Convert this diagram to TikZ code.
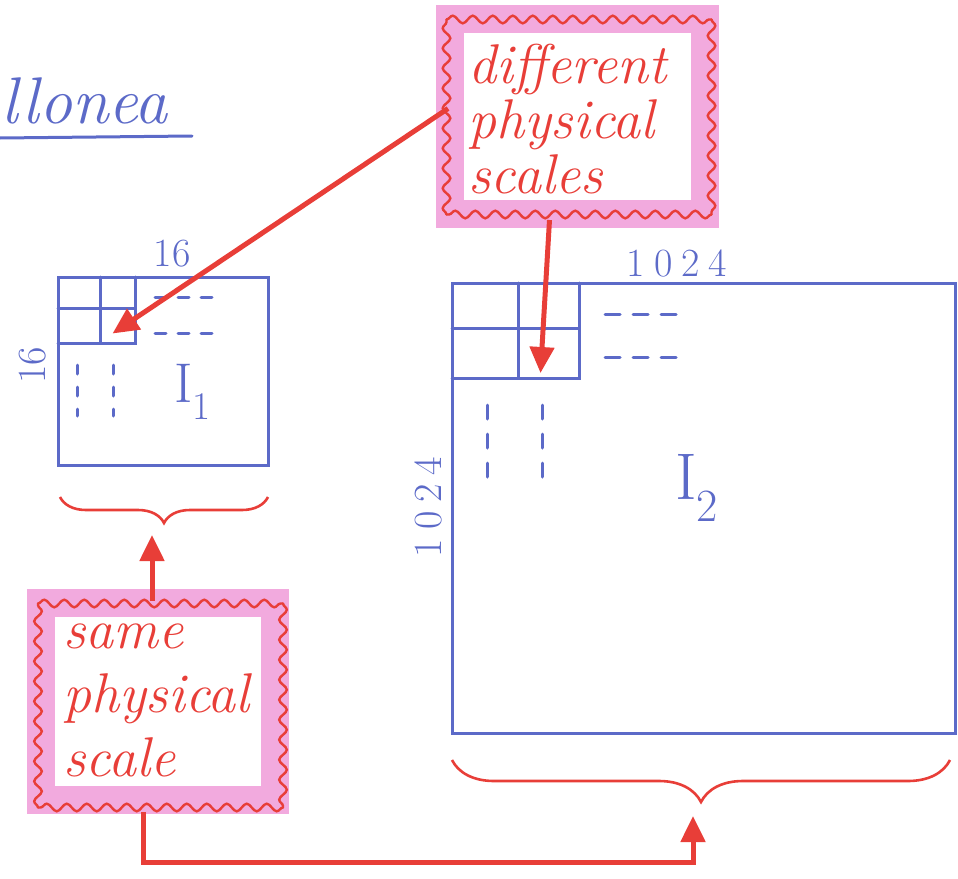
\documentclass[tikz,border=0pt]{standalone}
\usetikzlibrary{arrows.meta,decorations.pathmorphing,decorations.pathreplacing,calc}
\definecolor{inkblue}{RGB}{92,106,200}
\definecolor{inkred}{RGB}{232,62,56}
\definecolor{hipink}{RGB}{242,170,222}
\begin{document}
\begin{tikzpicture}[x=1pt,y=-1pt,
  blueline/.style={draw=inkblue,line width=3pt,line cap=round},
  bluedash/.style={blueline,dash pattern=on #1},
  bluebox/.style={draw=inkblue,line width=3pt,inner sep=0pt,outer sep=0pt},
  bluetext/.style={text=inkblue,inner sep=0pt},
  pinkband/.style={draw=hipink,line width=28pt,inner sep=0pt,outer sep=0pt,line join=miter},
  wavy/.style={draw=inkred,line width=2.4pt,line cap=round,decorate,decoration={snake,segment length=20pt,amplitude=3.8pt}},
  redtext/.style={text=inkred,inner sep=0pt,align=left,font=\itshape\fontsize{56}{#1}\selectfont},
  redarrow/.style={draw=inkred,line width=5pt,-{Triangle[length=26pt,width=24pt]}},
  redbrace/.style={draw=inkred,line width=2.6pt,decorate,decoration={brace,mirror,amplitude=#1}}
]
\useasboundingbox (0,0) rectangle (958,878);

% title
\node[bluetext,anchor=base west,font=\itshape\fontsize{66}{70}\selectfont] (title) at (1,123) {llonea};
\draw[blueline] (title.base west) ++(-1,15) -- ++(192,-2);

% image I1
\node[bluebox,minimum width=210pt,minimum height=188pt] (i1) at (163,371) {};
\node[bluebox,minimum width=35pt,minimum height=35pt] (cellA) at (117.5,325.5) {};
\draw[blueline] (cellA.north west) -- (cellA.north west |- i1.north);
\draw[blueline] (cellA.north east) -- (cellA.north east |- i1.north);
\draw[blueline] (cellA.north west) -- (cellA.north west -| i1.west);
\draw[blueline] (cellA.south west) -- (cellA.south west -| i1.west);
\draw[bluedash={11pt off 12pt}] (155,297) -- (212,297);
\draw[bluedash={11pt off 12pt}] (155,333) -- (212,333);
\draw[bluedash={9pt off 13pt}] (77,365) -- (77,416);
\draw[bluedash={9pt off 13pt}] (113,365) -- (113,416);
\node[bluetext,font=\fontsize{56}{60}\selectfont] (i1lab) at (193,392) {I\textsubscript{1}};
\node[bluetext,font=\fontsize{40}{42}\selectfont] (n16a) at (172,254) {16};
\node[bluetext,font=\fontsize{40}{42}\selectfont,rotate=90] (n16b) at (33,365) {16};

% image I2
\node[bluebox,minimum width=503pt,minimum height=450pt] (i2) at (703.5,508) {};
\node[bluebox,minimum width=61pt,minimum height=50pt] (cellB) at (548.5,353) {};
\draw[blueline] (cellB.north west) -- (cellB.north west |- i2.north);
\draw[blueline] (cellB.north east) -- (cellB.north east |- i2.north);
\draw[blueline] (cellB.north west) -- (cellB.north west -| i2.west);
\draw[blueline] (cellB.south west) -- (cellB.south west -| i2.west);
\draw[bluedash={15pt off 13pt}] (605,314) -- (677,314);
\draw[bluedash={15pt off 13pt}] (605,357) -- (677,357);
\draw[bluedash={14pt off 15pt}] (487,405) -- (487,478);
\draw[bluedash={14pt off 15pt}] (542,405) -- (542,478);
\node[bluetext,font=\fontsize{66}{70}\selectfont] (i2lab) at (697,488) {I\textsubscript{2}};
\node[bluetext,font=\fontsize{40}{42}\selectfont] (n1024a) at (677,263) {1\kern9pt0\kern9pt2\kern9pt4};
\node[bluetext,font=\fontsize{40}{42}\selectfont,rotate=90] (n1024b) at (428,507) {1\kern9pt0\kern9pt2\kern9pt4};

% braces
\coordinate (b1l) at (60,497);
\coordinate (b1r) at (268,497);
\coordinate (b1tip) at (152,535);
\draw[redbrace=26pt] (b1l) -- (b1r);
\coordinate (b2l) at (452,760);
\coordinate (b2r) at (950,760);
\coordinate (b2tip) at (693,816);
\draw[redbrace=42pt] (b2l) -- (b2r);

% different physical scales box
\node[pinkband,minimum width=255pt,minimum height=195pt] (diff) at (577.5,116.5) {};
\coordinate (dnw) at ($(diff.center)+(-131,-97)$);
\coordinate (dse) at ($(diff.center)+(134,98)$);
\draw[wavy] (dnw) -- (dnw -| dse);
\draw[wavy] (dnw -| dse) -- (dse);
\draw[wavy] (dse) -- (dse -| dnw);
\draw[wavy] (dse -| dnw) -- (dnw);
\node[redtext=55,anchor=north west] (difftext) at (468,44) {different\\physical\\scales};

% same physical scale box
\node[pinkband,minimum width=234pt,minimum height=197pt] (same) at (158,701.5) {};
\coordinate (snw) at ($(same.center)+(-120,-98)$);
\coordinate (sse) at ($(same.center)+(125,106)$);
\draw[wavy] (snw) -- (snw -| sse);
\draw[wavy] (snw -| sse) -- (sse);
\draw[wavy] (sse) -- (sse -| snw);
\draw[wavy] (sse -| snw) -- (snw);
\node[redtext=64,anchor=north west] (sametext) at (63,624) {same\\physical\\scale};

% arrows
\draw[redarrow] ($(diff.west)+(-2,-8)$) -- ($(cellA.center)+(-5,8)$);
\draw[redarrow] ($(diff.south)+(-28,6)$) -- ($(cellB.south)+(-8,-5)$);
\draw[redarrow] ($(same.north)+(-6,-2)$) -- (b1tip);
\draw[redarrow] ($(same.south)+(-15,12)$) -- ++(0,50) -| (b2tip);
\end{tikzpicture}
\end{document}
